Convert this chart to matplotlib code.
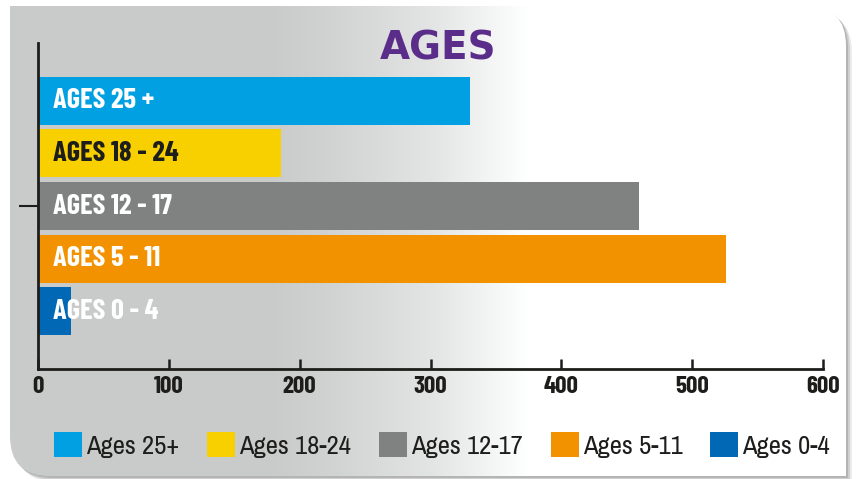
import numpy as np
import matplotlib
matplotlib.use("Agg")
import matplotlib.pyplot as plt
from matplotlib.path import Path
from matplotlib.patches import PathPatch
from matplotlib import font_manager

# Data
categories = ["Ages 25+", "Ages 18-24", "Ages 12-17", "Ages 5-11", "Ages 0-4"]
bar_labels = ["AGES 25 +", "AGES 18 - 24", "AGES 12 - 17", "AGES 5 - 11", "AGES 0 - 4"]
values = [330, 186, 459, 526, 25]
colors = ["#00a0e3", "#f8d000", "#808281", "#f39200", "#0068b4"]
label_colors = ["white", "#1d1d1b", "white", "white", "white"]
xticks = [0, 100, 200, 300, 400, 500, 600]

installed = {f.name for f in font_manager.fontManager.ttflist}
def pick(names):
    for n in names:
        if n in installed:
            return n
    return "DejaVu Sans"

cond = pick(["Barlow Condensed", "Asap Condensed", "Archivo Narrow"])
legfont = pick(["Archivo Narrow", "Barlow Semi Condensed", "Barlow Condensed"])

W, H = 859, 479
fig = plt.figure(figsize=(W / 100, H / 100), dpi=100)
fig.patch.set_facecolor("white")

# background panel with gradient
bg = fig.add_axes([0, 0, 1, 1])
bg.set_xlim(0, W)
bg.set_ylim(H, 0)
bg.axis("off")

def panel_path(x0, y0, x1, y1, r):
    verts = [(x0, y0), (x1 - r, y0), (x1, y0), (x1, y0 + r), (x1, y1),
             (x0 + r, y1), (x0, y1), (x0, y1 - r), (x0, y0), (x0, y0)]
    codes = [Path.MOVETO, Path.LINETO, Path.CURVE3, Path.CURVE3, Path.LINETO,
             Path.LINETO, Path.CURVE3, Path.CURVE3, Path.LINETO, Path.CLOSEPOLY]
    return Path(verts, codes)

for off, a in [(6, 0.15), (4, 0.25), (2, 0.35)]:
    bg.add_patch(PathPatch(panel_path(10 + off, 6 + off, 846 + off, 476 + off, 40),
                           facecolor="#808080", edgecolor="none", alpha=a, zorder=0))
panel = PathPatch(panel_path(10, 6, 846, 476, 40), facecolor="none", edgecolor="none")
bg.add_patch(panel)
xs = np.arange(W)
g = np.interp(xs, [0, 270, 330, 430, 530, W], [0.79, 0.79, 0.82, 0.89, 1.0, 1.0])
img = np.dstack([g, g + 0.003, g + 0.003]).clip(0, 1)
im = bg.imshow(img, extent=(0, W, H, 0), aspect="auto", zorder=2)
im.set_clip_path(panel)

# main axes
ax = fig.add_axes([38 / W, 1 - 369 / H, (823 - 38) / W, (369 - 43) / H])
ax.set_facecolor("none")
ypos = [2, 1, 0, -1, -2]
for y, v, c, lab, lc, cat in zip(ypos, values, colors, bar_labels, label_colors, categories):
    ax.barh(y, v, height=0.91, color=c, label=cat, zorder=2)
    ax.text(11.5, y, lab, color=lc, fontsize=20.5, fontweight="bold", family=cond,
            va="center", ha="left", zorder=3)

ax.set_xlim(0, 600)
ax.set_ylim(-3.1, 3.1)
ax.set_xticks(xticks)
ax.set_xticklabels([str(t) for t in xticks], fontsize=18, fontweight="bold",
                   family=cond, color="#1d1d1b")
ax.tick_params(axis="x", direction="in", length=7, width=1.8, pad=5, color="#1d1d1b")
ax.set_yticks([0])
ax.set_yticklabels([""])
ax.tick_params(axis="y", direction="out", length=14, width=1.5, color="#1d1d1b")
for s in ["top", "right"]:
    ax.spines[s].set_visible(False)
for s in ["left", "bottom"]:
    ax.spines[s].set_linewidth(2)
    ax.spines[s].set_color("#1d1d1b")

fig.text(438 / W, 1 - 60 / H, "AGES", color="#5b2d8a", fontsize=28,
         fontweight="heavy", ha="center", va="baseline")

handles, labs = ax.get_legend_handles_labels()
leg = fig.legend(handles, labs, loc="center", bbox_to_anchor=(442 / W, 1 - 445 / H),
                 ncol=5, frameon=False, handlelength=1.05, handleheight=1.05,
                 handletextpad=0.15, columnspacing=1.05,
                 prop={"family": legfont, "size": 19.2})
for t in leg.get_texts():
    t.set_color("#1d1d1b")

fig.savefig("out.png", dpi=100)
